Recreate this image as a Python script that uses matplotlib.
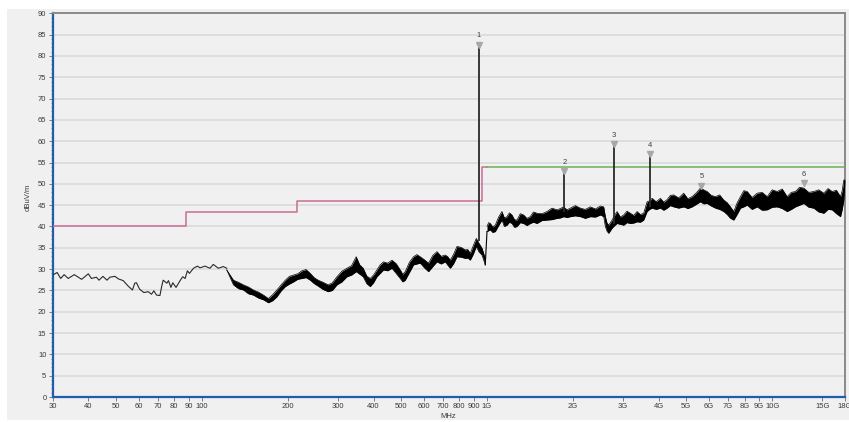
import matplotlib.pyplot as plt
import matplotlib.ticker as mticker
from matplotlib.patches import Rectangle

plt.rcParams['font.family'] = ['Liberation Sans', 'DejaVu Sans']

# ------- datos -------

# tramo bajo (una sola linea) 30 - 122 MHz
line_freq = [30, 31.1, 32.0, 32.9, 34.0, 35.7, 37.9, 40.0, 41.0, 42.7,
             43.6, 45.0, 46.5, 47.6, 49.6, 51.0, 53.0, 55.2, 57.1, 58.2,
             59.0, 60.5, 62.6, 64.9, 66.6, 67.9, 69.4, 71.3, 72.3, 73.2,
             75.4, 76.4, 77.9, 79.1, 81.2, 83.9, 85.7, 87.4, 89.0, 90.5,
             93.5, 96.5, 98.6, 102.6, 106.8, 109.7, 114.2, 119.0, 122.3]
line_level = [28.6, 29.2, 27.8, 28.7, 27.8, 28.7, 27.6, 28.9, 27.8, 28.1,
              27.4, 28.3, 27.4, 28.1, 28.3, 27.7, 27.3, 26.0, 25.1, 26.7,
              26.8, 25.3, 24.5, 24.7, 24.1, 24.9, 23.9, 23.8, 25.9, 27.4,
              26.7, 27.3, 25.7, 26.8, 25.7, 27.3, 28.2, 27.8, 29.6, 29.0,
              30.2, 30.7, 30.3, 30.7, 30.2, 31.1, 30.2, 30.6, 30.2]

# tramo ruidoso 122 MHz - 1 GHz: envolvente max / min
band_freq = [122.3, 129.1, 134.5, 139.9, 145.8, 151.7, 158.0, 164.5, 171.2, 177.2,
             183.3, 189.7, 196.2, 202.9, 209.6, 216.8, 224.3, 232.0, 239.9, 247.7,
             255.9, 266.3, 277.4, 287.0, 297.6, 309.8, 322.6, 335.0, 347.8, 357.8,
             368.0, 378.5, 389.4, 400.0, 411.1, 422.2, 433.6, 448.6, 464.1, 480.0,
             496.3, 506.4, 516.7, 534.4, 552.6, 567.8, 583.3, 603.0, 623.7, 645.4,
             667.6, 690.6, 714.0, 728.5, 743.3, 763.8, 784.6, 811.6, 839.0, 856.0,
             873.5, 895.0, 917.0, 938.0, 960.3, 986.0]
band_hi = [29.8, 27.4, 26.9, 26.3, 25.8, 25.1, 24.6, 23.9, 23.1, 24.0,
           25.1, 26.3, 27.4, 28.3, 28.6, 28.9, 29.6, 29.9, 29.0, 28.0,
           27.4, 26.9, 26.3, 26.8, 28.2, 29.5, 30.2, 30.8, 32.9, 31.0,
           30.2, 28.4, 27.8, 28.6, 29.8, 31.0, 31.7, 31.4, 32.1, 31.3,
           29.8, 28.8, 29.4, 31.6, 32.9, 33.4, 32.9, 32.2, 31.4, 33.2,
           34.1, 33.0, 33.3, 32.9, 32.1, 33.5, 35.3, 35.1, 34.5, 34.6,
           33.7, 35.5, 37.2, 36.0, 34.9, 32.5]
band_lo = [29.8, 26.3, 25.4, 25.1, 24.2, 23.9, 23.2, 22.8, 22.1, 22.6,
           23.5, 24.9, 25.9, 26.5, 27.0, 27.6, 27.8, 28.0, 27.4, 26.6,
           26.0, 25.2, 24.7, 25.0, 26.3, 27.0, 28.2, 28.6, 29.4, 28.8,
           28.2, 26.6, 25.9, 26.8, 28.2, 29.0, 29.8, 29.6, 30.2, 29.0,
           27.8, 27.0, 27.4, 29.2, 31.0, 31.2, 31.4, 30.3, 29.4, 30.6,
           31.7, 31.2, 31.7, 30.9, 30.2, 31.3, 32.9, 32.8, 32.5, 32.6,
           32.1, 33.5, 35.3, 34.0, 33.3, 31.0]

# tramo 1 GHz - 18 GHz: envolvente max / min
ghz_freq = [1000, 1013, 1027, 1047, 1069, 1098, 1128, 1150, 1175, 1198,
            1223, 1248, 1274, 1308, 1344, 1380, 1418, 1455, 1497, 1560,
            1623, 1690, 1760, 1808, 1857, 1908, 1960, 2040, 2125, 2210,
            2304, 2400, 2497, 2565, 2600, 2635, 2671, 2745, 2800, 2858,
            2935, 3015, 3095, 3182, 3270, 3359, 3450, 3543, 3642, 3715,
            3792, 3920, 4055, 4165, 4281, 4395, 4515, 4700, 4895, 5060,
            5239, 5420, 5602, 5750, 5914, 6110, 6324, 6540, 6763, 6950,
            7139, 7332, 7530, 7740, 7950, 8171, 8500, 8858, 9220, 9603,
            10000, 10410, 10840, 11285, 11670, 12068, 12480, 12905, 13440, 13990,
            14560, 15171, 15690, 16233, 16790, 17362, 17600, 17828, 18000]
ghz_hi = [40.0, 40.9, 40.7, 39.9, 40.3, 42.2, 43.5, 42.0, 42.3, 43.2,
          42.7, 41.6, 41.5, 43.0, 42.7, 41.9, 42.3, 43.4, 43.1, 43.0,
          43.5, 44.3, 43.9, 44.2, 44.6, 43.9, 44.3, 44.9, 44.3, 44.0,
          44.6, 44.1, 44.8, 44.6, 42.3, 40.8, 40.3, 41.5, 42.6, 43.5,
          42.2, 42.7, 43.6, 43.1, 42.6, 43.5, 42.8, 43.1, 45.8, 46.0,
          46.6, 45.8, 46.6, 45.7, 46.3, 47.3, 47.4, 46.7, 47.8, 46.5,
          47.0, 47.9, 49.0, 48.6, 48.2, 47.3, 47.0, 47.4, 46.2, 45.6,
          44.6, 43.5, 45.5, 47.0, 48.4, 48.2, 46.8, 47.8, 48.0, 47.0,
          48.6, 48.2, 48.8, 47.0, 48.0, 48.2, 49.2, 49.0, 48.0, 48.2,
          48.6, 47.8, 48.9, 48.2, 48.5, 47.0, 48.4, 50.9, 50.9]
ghz_lo = [38.8, 39.0, 39.2, 38.6, 38.8, 40.2, 41.5, 40.0, 40.3, 41.0,
          40.7, 39.8, 40.0, 40.9, 40.7, 40.2, 40.7, 41.0, 40.7, 41.4,
          41.5, 41.6, 41.9, 42.0, 42.3, 42.1, 42.3, 42.5, 42.3, 41.9,
          42.3, 42.2, 42.7, 42.3, 40.0, 38.9, 38.4, 39.6, 40.2, 40.7,
          40.5, 40.3, 40.9, 40.7, 40.8, 41.1, 41.0, 41.5, 43.5, 44.0,
          44.3, 44.0, 44.3, 43.8, 44.3, 44.9, 44.6, 44.3, 44.6, 44.2,
          44.6, 45.2, 45.8, 45.3, 45.4, 44.8, 44.3, 44.0, 43.5, 42.8,
          41.9, 41.5, 42.8, 44.3, 44.6, 45.0, 44.0, 44.6, 43.8, 43.9,
          44.5, 44.6, 44.2, 43.5, 44.0, 44.6, 45.0, 45.4, 44.5, 44.3,
          43.4, 43.1, 44.0, 43.9, 43.0, 42.3, 44.0, 46.2, 50.9]

# picos aislados
spike_freq = [934, 1867, 2787, 3718]
spike_base = [36.5, 43.5, 40.5, 44.5]
spike_top = [82.6, 52.9, 59.3, 56.9]

# marcadores
marker_freq = [934, 1867, 2787, 3718, 5650, 12900]
marker_level = [82.6, 52.9, 59.3, 56.9, 49.6, 50.1]
marker_names = ['1', '2', '3', '4', '5', '6']

# limites
limit_red_freq = [30, 88, 216, 960, 1000]
limit_red_level = [40, 43.5, 46, 54, 54]
limit_green_freq = [1000, 18000]
limit_green_level = [54, 54]

tick_freq = [30, 40, 50, 60, 70, 80, 90, 100, 200, 300, 400, 500, 600, 700,
             800, 900, 1000, 2000, 3000, 4000, 5000, 6000, 7000, 8000, 9000,
             10000, 15000, 18000]
tick_names = ['30', '40', '50', '60', '70', '80', '90', '100', '200', '300',
              '400', '500', '600', '700', '800', '900', '1G', '2G', '3G', '4G',
              '5G', '6G', '7G', '8G', '9G', '10G', '15G', '18G']

# ------- figura -------
W, H = 849, 422
fig = plt.figure(figsize=(W / 100, H / 100), dpi=100)
fig.patch.set_facecolor('white')
panel = Rectangle((7 / W, 2 / H), 1, 1 - 11 / H, transform=fig.transFigure,
                  facecolor='#f0f0f0', edgecolor='none', zorder=-10)
fig.patches.append(panel)

ax = fig.add_axes([52.7 / W, 1 - 397 / H, (845 - 52.7) / W, (397 - 13.3) / H])
ax.set_zorder(1)
ax.set_facecolor('#f0f0f0')

ax.set_xscale('log')
ax.set_xlim(30, 18000)
ax.set_ylim(0, 90)

ax.set_yticks(range(0, 91, 5))
ax.yaxis.set_minor_locator(mticker.MultipleLocator(1))
ax.set_xticks(tick_freq)
ax.set_xticklabels(tick_names)
ax.xaxis.set_minor_locator(mticker.NullLocator())

ax.grid(axis='y', color='#d8d8d8', linewidth=1.1, zorder=1)
ax.set_axisbelow(True)

ax.tick_params(axis='both', which='major', labelsize=5.5, labelcolor='#3a3a3a',
               color='#6a6a6a', length=3, width=0.6, pad=1.5)
ax.tick_params(axis='y', which='minor', length=1.8, width=0.5, color='#6a6a6a')

for side in ['left', 'bottom']:
    ax.spines[side].set_color('#1f5ea8')
    ax.spines[side].set_linewidth(1.6)
for side in ['top', 'right']:
    ax.spines[side].set_color('#8a8a8a')
    ax.spines[side].set_linewidth(1.4)

# limites
ax.step(limit_red_freq, limit_red_level, where='post', color='#cc6c96', linewidth=1.1, zorder=3)
ax.plot(limit_green_freq, limit_green_level, color='#6cae5c', linewidth=1.1, zorder=3)

# traza
ax.plot(line_freq, line_level, color='#2a2a2a', linewidth=0.8, zorder=4)
for fq, hi, lo in [(band_freq, band_hi, band_lo), (ghz_freq, ghz_hi, ghz_lo)]:
    ax.fill_between(fq, lo, hi, color='black', linewidth=0, zorder=4)
    ax.plot(fq, hi, color='black', linewidth=0.5, zorder=4)
    ax.plot(fq, lo, color='black', linewidth=0.5, zorder=4)
# union 986 MHz -> 1 GHz
ax.plot([band_freq[-1], ghz_freq[0]], [band_lo[-1], ghz_lo[0]], color='black',
        linewidth=0.8, zorder=4)

ax.vlines(spike_freq, spike_base, spike_top, color='#2a2a2a', linewidth=1.3, zorder=5)

# marcadores
ax.plot(marker_freq, marker_level, linestyle='none', marker='v', markersize=3.8,
        color='#a8a8a8', zorder=6)
for f, lv, name in zip(marker_freq, marker_level, marker_names):
    ax.annotate(name, (f, lv), xytext=(0, 6.5), textcoords='offset points',
                ha='center', va='center', fontsize=5.5, color='#4a3a4a', zorder=7)

fig.text(28 / W, 1 - 197 / H, 'dBuV/m', rotation=90, ha='center', va='center',
         fontsize=5.5, color='#3a3a3a')
fig.text(448 / W, 1 - 416.5 / H, 'MHz', ha='center', va='center',
         fontsize=5.5, color='#3a3a3a')

fig.savefig('out.png', dpi=100, facecolor=fig.get_facecolor())
